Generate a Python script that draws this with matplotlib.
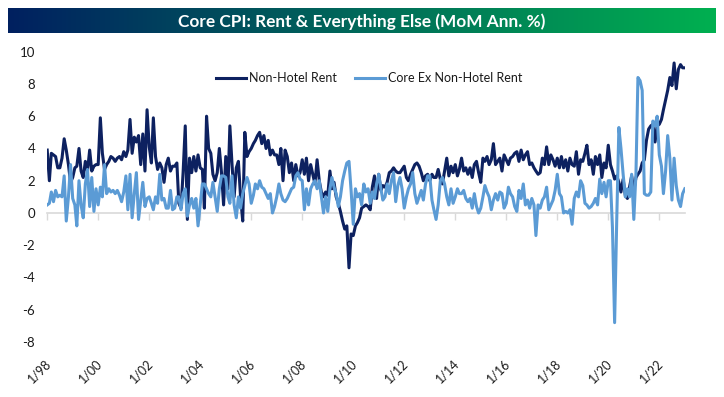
import numpy as np
import pandas as pd
import matplotlib
matplotlib.use('Agg')
import matplotlib.pyplot as plt
from matplotlib.colors import LinearSegmentedColormap
from matplotlib.transforms import ScaledTranslation

plt.rcParams['font.family'] = ['Lato', 'DejaVu Sans']

title = 'Core CPI: Rent & Everything Else (MoM Ann. %)'
series_names = ['Non-Hotel Rent', 'Core Ex Non-Hotel Rent']
start_month = '1998-01-01'

# monthly readings (MoM annualized, %), Jan 1998 onward, one row per year
non_hotel_rent = [
    3.9, 2.0, 3.7, 3.6, 3.5, 2.8, 2.8, 3.4, 4.6, 3.9, 3.0, 1.9,   # 1998
    2.2, 2.8, 2.9, 4.0, 2.6, 2.2, 3.2, 2.6, 3.9, 2.6, 2.9, 3.0,   # 1999
    3.0, 5.9, 3.7, 2.7, 3.0, 3.2, 3.5, 3.4, 3.2, 3.4, 3.5, 3.3,   # 2000
    3.8, 3.5, 3.9, 5.8, 3.7, 4.7, 4.4, 4.8, 3.0, 4.9, 2.6, 6.4,   # 2001
    4.1, 3.1, 5.9, 3.5, 2.7, 3.1, 2.8, 1.9, 3.0, 3.4, 2.6, 2.9,   # 2002
    2.9, 3.1, 0.6, 0.3, 2.5, 5.4, -0.4, 3.4, 2.5, 3.5, 2.6, 3.6,  # 2003
    2.8, 2.7, 0.3, 6.0, 4.0, 3.7, 2.4, 2.0, 2.5, 4.0, 2.5, 0.5,   # 2004
    3.5, 1.5, 5.4, 3.0, 1.0, 2.8, 3.2, 1.0, -0.5, 5.0, 3.5, 3.8,  # 2005
    4.0, 4.3, 4.5, 4.8, 5.0, 4.3, 4.8, 4.0, 4.5, 3.6, 3.9, 3.6,   # 2006
    3.6, 3.0, 4.0, 2.0, 3.9, 3.5, 2.5, 3.1, 2.0, 3.0, 2.3, 2.5,   # 2007
    3.3, 2.4, 3.4, 2.0, 3.0, 2.4, 1.8, 3.3, 2.0, 1.3, 1.0, 1.3,   # 2008
    1.1, 2.6, 1.5, 1.9, 1.0, 0.6, 0.1, -0.5, -1.0, -0.8, -3.4, -1.3,  # 2009
    -1.4, -0.8, -0.6, -0.3, 0.3, 0.4, 0.5, 0.4, 0.2, 1.6, 2.3, 0.9,   # 2010
    2.4, 1.4, 1.7, 1.6, 1.9, 2.5, 2.6, 2.8, 2.6, 2.5, 2.5, 2.7,   # 2011
    2.9, 2.2, 2.0, 2.4, 2.7, 3.0, 3.1, 2.9, 2.5, 2.0, 2.3, 2.4,   # 2012
    2.0, 2.4, 2.2, 2.2, 2.7, 2.1, 1.8, 2.6, 3.4, 2.3, 2.9, 2.5,   # 2013
    3.0, 2.3, 2.7, 3.4, 2.6, 2.8, 2.4, 2.8, 2.2, 3.0, 3.2, 2.5,   # 2014
    1.9, 3.4, 3.2, 3.5, 3.0, 3.3, 4.3, 3.0, 3.2, 3.4, 2.6, 3.6,   # 2015
    3.3, 3.0, 3.4, 3.5, 3.7, 3.8, 3.2, 3.9, 3.3, 3.6, 3.8, 3.0,   # 2016
    3.1, 2.8, 2.6, 2.4, 2.5, 3.4, 3.0, 4.1, 3.0, 3.6, 3.3, 2.9,   # 2017
    3.4, 2.8, 3.5, 2.8, 3.3, 2.6, 3.4, 3.0, 2.9, 3.8, 2.4, 3.3,   # 2018
    3.2, 3.7, 4.2, 3.0, 3.3, 2.4, 3.5, 3.0, 3.6, 2.2, 3.1, 2.8,   # 2019
    4.2, 3.0, 2.6, 2.1, 2.3, 1.9, 1.3, 2.1, 1.1, 0.9, 1.6, 2.3,   # 2020
    1.4, 2.2, 2.4, 2.6, 3.1, 3.3, 4.5, 5.2, 5.4, 5.5, 4.4, 5.4,   # 2021
    5.5, 5.8, 6.4, 7.0, 7.6, 8.4, 7.9, 9.3, 7.7, 8.9, 9.2, 9.0,   # 2022
    9.0,                                                          # 2023
]

core_ex_rent = [
    0.5, 0.6, 1.3, 0.7, 1.4, 1.0, 1.1, 1.0, 2.3, -0.5, 1.0, 3.0,  # 1998
    0.9, 0.5, -0.8, 2.0, 0.5, -0.3, 1.8, 2.7, 0.4, 2.2, 0.1, 1.5,  # 1999
    0.5, 1.6, 1.0, 3.0, 1.2, 1.5, 1.3, 1.4, 1.2, 1.4, 1.1, 0.7,   # 2000
    1.3, 2.3, 0.2, 2.4, -0.3, 1.2, 2.5, -0.4, 0.8, 1.9, 0.4, 0.9,  # 2001
    1.0, 0.6, 0.2, 1.0, 0.6, 2.4, 0.8, 0.9, 0.3, 0.3, 1.4, 0.2,   # 2002
    0.3, 1.0, 1.0, 0.2, 1.2, 1.5, -0.2, 0.5, 0.9, 0.3, 0.9, -0.8,  # 2003
    0.5, 1.8, 1.8, 1.5, 1.2, 1.0, 1.9, 1.0, 0.1, 1.5, 2.3, 2.3,   # 2004
    2.2, 1.0, 0.6, 2.3, 0.5, -0.3, 1.0, 0.3, 1.2, 1.7, 2.2, 1.8,  # 2005
    0.6, 1.1, 1.8, 1.5, 2.0, 1.6, 1.5, 1.2, 0.9, 1.2, 0.0, 0.4,   # 2006
    1.0, 1.8, 1.2, 0.8, 0.7, 0.9, 1.2, 1.5, 1.6, 2.3, 2.5, 2.1,   # 2007
    2.0, 0.2, 1.5, 0.5, 1.5, 1.8, 2.0, 1.5, 2.0, 1.0, 0.0, 1.0,   # 2008
    0.1, 1.5, 2.2, 1.6, 1.2, 0.4, 1.0, 2.0, 2.6, 3.1, 3.2, 1.4,   # 2009
    -0.7, 1.5, 1.0, 1.2, 0.5, 1.8, 1.3, 1.5, 0.6, 1.3, 0.9, 1.8,  # 2010
    2.4, 1.5, 0.8, 1.0, 1.8, 1.2, 2.0, 2.5, 0.7, 1.7, 2.2, 1.5,   # 2011
    0.3, 1.0, 1.5, 1.8, 2.5, 1.2, 0.6, 1.0, 1.4, 0.8, 1.8, 2.3,   # 2012
    2.3, 0.8, 0.2, -0.4, 0.5, 2.0, 2.2, 1.8, 1.0, 0.5, 1.5, 0.6,  # 2013
    1.0, 1.5, 1.2, 1.2, 1.4, 0.9, 0.7, 0.9, 0.3, 1.2, 0.4, 0.0,   # 2014
    0.3, 1.0, 1.7, 1.3, 1.0, 0.2, 0.8, 1.2, 0.8, 1.3, 1.2, 0.3,   # 2015
    0.6, 1.6, 1.2, 1.0, 0.4, 0.1, 1.4, 0.9, 1.8, 0.5, 0.8, 0.3,   # 2016
    0.9, 0.5, -1.4, 0.5, 0.3, 0.8, 1.0, 1.6, 0.2, 0.5, 0.8, 1.4,  # 2017
    2.4, 1.2, 1.0, 0.0, 0.1, 0.0, 0.2, -0.7, 0.9, 1.3, 1.0, 2.0,  # 2018
    1.7, 0.6, 0.5, 0.3, 0.4, 0.6, 0.9, 0.5, 2.1, 1.2, 1.9, 1.0,   # 2019
    2.0, 2.0, -0.9, -6.8, -0.5, 5.3, 4.0, 2.4, 1.0, 1.5, 1.0, 2.4,  # 2020
    -0.4, 2.5, 8.4, 8.2, 7.6, 1.2, 1.1, 1.1, 1.3, 5.7, 5.4, 6.0,  # 2021
    3.6, 2.9, 1.2, 2.6, 4.8, 3.4, 0.8, 3.4, 1.7, 0.8, 0.4, 1.2,   # 2022
    1.5,                                                          # 2023
]

y_ticks = [-8, -6, -4, -2, 0, 2, 4, 6, 8, 10]
x_tick_labels = ['1/98', '1/00', '1/02', '1/04', '1/06', '1/08', '1/10',
                 '1/12', '1/14', '1/16', '1/18', '1/20', '1/22']

navy = '#0d2160'
light_blue = '#5b9bd5'
axis_gray = '#d9d9d9'
text_color = '#1a1a1a'

dates = pd.date_range(start_month, periods=len(non_hotel_rent), freq='MS')
tick_dates = pd.date_range(start_month, periods=len(x_tick_labels), freq='24MS')

fig = plt.figure(figsize=(7.24, 3.97), dpi=100)

# title banner with navy -> green gradient
banner = fig.add_axes([8 / 724, 1 - 33 / 397, 708 / 724, 25 / 397])
grad = LinearSegmentedColormap.from_list('banner', ['#002060', '#006a5a', '#00b050'])
banner.imshow(np.linspace(0, 1, 256).reshape(1, -1), aspect='auto', cmap=grad,
              extent=[0, 1, 0, 1])
banner.set_axis_off()
banner.text(0.5, 0.47, title, color='white', fontsize=12.4, fontweight='bold',
            ha='center', va='center', transform=banner.transAxes)

ax = fig.add_axes([47 / 724, 1 - 342 / 397, (685 - 47) / 724, (342 - 51.7) / 397])
ax.plot(dates, non_hotel_rent, color=navy, lw=2.2, label=series_names[0],
        solid_joinstyle='round')
ax.plot(dates, core_ex_rent, color=light_blue, lw=2.2, label=series_names[1],
        solid_joinstyle='round')

ax.set_ylim(-8, 10)
ax.set_yticks(y_ticks)
ax.set_yticklabels([str(v) for v in y_ticks])
ax.set_xlim(dates[0] - pd.Timedelta(days=3), dates[-1] + pd.Timedelta(days=3))
ax.set_xticks(tick_dates)
ax.set_xticklabels(x_tick_labels, rotation=45, ha='right', va='top')
ax.tick_params(axis='both', length=0, labelsize=9.5, colors=text_color)
ax.tick_params(axis='x', labelsize=9, pad=11)
ax.tick_params(axis='y', pad=8.5)
shift = ScaledTranslation(6 / 100, 0, fig.dpi_scale_trans)
for lab in ax.get_xticklabels():
    lab.set_transform(lab.get_transform() + shift)
for s in ax.spines.values():
    s.set_visible(False)

# horizontal axis line sits at zero, with its tick marks
zero_axis = ax.secondary_xaxis(8 / 18)
zero_axis.set_xticks(tick_dates)
zero_axis.tick_params(axis='x', length=5, width=1, color=axis_gray,
                      labelbottom=False, labeltop=False)
zero_axis.spines['bottom'].set_color(axis_gray)
zero_axis.spines['bottom'].set_linewidth(1.2)
ax.set_zorder(1)
ax.patch.set_visible(False)

ax.legend(loc='center', bbox_to_anchor=(0.505, 0.909), ncol=2, frameon=False,
          fontsize=9, handlelength=2.4, handletextpad=0.25, columnspacing=1.5,
          labelcolor=text_color)

fig.savefig('out.png', dpi=100)
